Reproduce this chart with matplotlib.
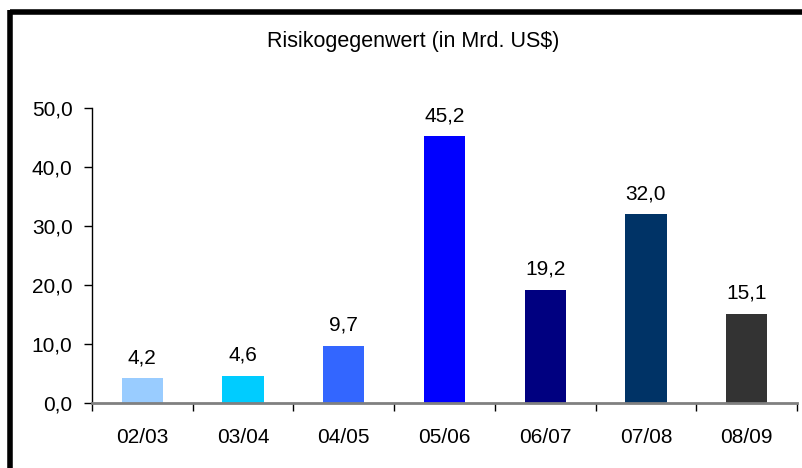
import matplotlib.pyplot as plt
from matplotlib.lines import Line2D

plt.rcParams['font.family'] = ['Liberation Sans', 'DejaVu Sans']

years = ["02/03", "03/04", "04/05", "05/06", "06/07", "07/08", "08/09"]
values = [4.2, 4.6, 9.7, 45.2, 19.2, 32.0, 15.1]
colors = ["#99CCFF", "#00CCFF", "#3366FF", "#0000FF", "#000080", "#003366", "#333333"]

fig = plt.figure(figsize=(8.03, 4.68), dpi=100)
ax = fig.add_axes([92 / 803, 1 - 403 / 468, (797 - 92) / 803, (403 - 108) / 468])

x = range(len(years))
ax.bar(x, values, width=0.41, color=colors, zorder=2)

for i, v in enumerate(values):
    ax.annotate(f"{v:.1f}".replace(".", ","), (i, v), xytext=(0, 8),
                textcoords="offset points", ha="center", va="bottom", fontsize=15)

ax.set_xlim(-0.5, len(years) - 0.5)
ax.set_ylim(0, 50)
ax.set_yticks(range(0, 51, 10))
ax.set_yticklabels([f"{t},0" for t in range(0, 51, 10)], fontsize=15)

ax.set_xticks(x)
ax.set_xticklabels(years, fontsize=15)
ax.tick_params(axis="x", length=0, pad=18)
ax.set_xticks([i + 0.5 for i in range(-1, len(years))], minor=True)
ax.tick_params(axis="x", which="minor", length=6, width=1, color="black")
ax.tick_params(axis="y", length=6, width=1, pad=8)

ax.spines["top"].set_visible(False)
ax.spines["right"].set_visible(False)
ax.spines["left"].set_linewidth(1)
ax.spines["bottom"].set_color("#808080")
ax.spines["bottom"].set_linewidth(2)

fig.text(413 / 803, 1 - 42 / 468, "Risikogegenwert (in Mrd. US$)", ha="center", va="center", fontsize=15.5)

# frame lines along the top and left edge
fig.add_artist(Line2D([10.5 / 803, 1], [1 - 12 / 468, 1 - 12 / 468], color="black", linewidth=4,
                      transform=fig.transFigure, solid_capstyle="butt"))
fig.add_artist(Line2D([10.5 / 803, 10.5 / 803], [0, 1 - 10 / 468], color="black", linewidth=4,
                      transform=fig.transFigure, solid_capstyle="butt"))

fig.savefig("out.png", dpi=100)
